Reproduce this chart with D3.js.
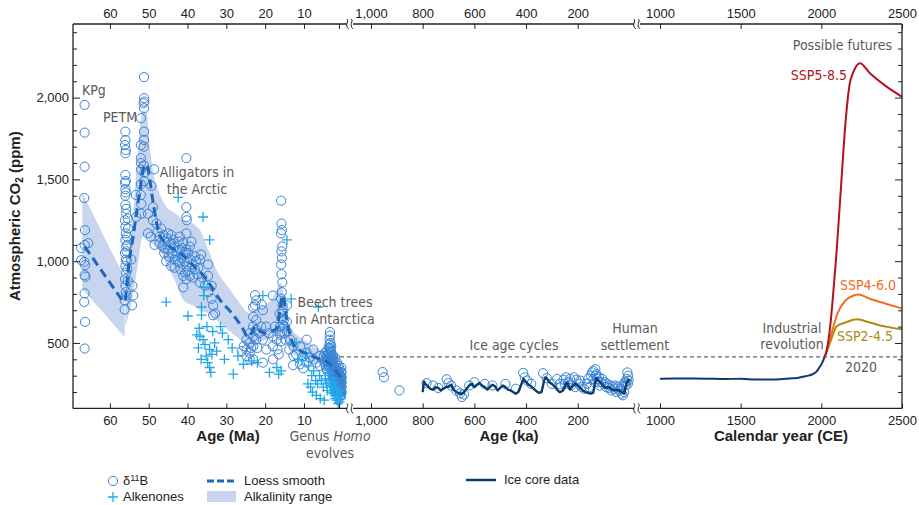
<!DOCTYPE html>
<html>
<head>
<meta charset="utf-8">
<script src="https://cdn.jsdelivr.net/npm/d3@7"></script>
<style>
  body { margin: 0; background: #fff; }
  text { font-family: "Liberation Sans", Arial, sans-serif; }
  .note { font-family: "Liberation Sans Narrow", "DejaVu Sans Condensed", sans-serif; fill: #5a5a5a; font-size: 14px; }
  .tick text { font-size: 13px; fill: #222; }
  .tick line { stroke: #222; }
</style>
</head>
<body>
<svg id="chart" width="919" height="505"></svg>
<script>
// ---- data ----
// boron isotope CO2, [age Ma, ppm]
const boronMa = [
  [66.5,1955],[66.5,1786],[66.5,1578],[66.6,1386],[66.4,1190],[66.5,1099],[66.6,996],[66.4,976],[66.5,915],[66.3,905],
  [66.5,803],[66.6,751],[66.4,629],[66.5,466],[67.4,1080],[67.4,1006],[65.6,1110],
  [56,1792],[56,1741],[56.1,1710],[55.9,1680],[56,1660],[56,1527],[55.9,1490],[56.1,1480],[56,1440],[55.9,1420],[56,1400],
  [56,1344],[55.8,1290],[56.1,1250],[56,1210],[55.9,1170],[56,1130],[55.8,1090],[56.1,1050],[55.9,1010],[56,970],[55.8,930],
  [56.1,890],[56,850],[55.9,810],[56.2,705],[54.5,1010],[54.2,850],[54,790],[54.3,730],[55.5,1100],[55.5,950],[55.3,1200],
  [55.4,880],[55.6,1000],[55.7,1060],[55.6,1150],[55.8,1320],[55.7,790],[56.2,760],[55.4,1260],
  [53.3,1405],[52,1874],[52,1710],[52,1630],[52,1600],[52,1560],[52,1470],[52,1405],[51.2,2125],[51.2,1997],[51.1,1976],
  [51.3,1966],[51.2,1935],[51.2,1792],[51.2,1741],[51.3,1700],[51.2,1585],[51.1,1540],[51.2,1490],[49.3,1460],[48.6,1562],
  [40.3,1630],[53.2,1270],[51.9,1350],[51.9,1290],[50.2,1290],[50.2,1170],[48.9,1330],[48.9,1250],[48,1230],
  [47.2,1150],[47.2,1110],[45.9,1120],[45.9,1080],[45,1170],[45,1070],[44.2,1160],[44.2,1110],[44.2,970],[43.3,1090],
  [43.3,1010],[43.3,960],[42,1150],[42,1070],[42,990],[41.1,1110],[41.1,1040],[41.1,910],[41.1,840],[40.3,1330],[40.3,1270],
  [40.3,1170],[40.3,1070],[40.3,970],[40.3,890],[39.4,1090],[39.4,1010],[39.4,910],[38.1,1030],[38.1,950],[36.8,1010],
  [36.8,870],[34.7,980],[34.7,910],[34.7,810],[33.8,770],[33.8,850],[32.9,680],[33.4,730],
  [46.5,1090],[46,1050],[45.5,1000],[44.8,1030],[44,1050],[43.7,1130],[42.8,1060],[42.5,1000],[41.8,950],[41.5,1020],
  [40.8,1000],[40.5,1050],[40,940],[39.8,1050],[38.8,980],[38.5,900],[37.5,920],[37.2,960],[36.2,900],[35.5,850],
  [48.5,1100],[49.5,1150],[47.7,1180],[46.8,1200],[40.2,1250],[33.4,670],[44.6,1100],[43,1030],[41.4,1080],[40.6,930],
  [39,1120],[42.3,1120],[45.2,1140],[46.2,1160],[37.8,1000],[36.5,1040],
  [24.8,520],[24.8,460],[24.8,420],[24,560],[24,500],[24,440],[24,400],[23.1,720],[23.1,660],[23.1,600],[23.1,540],
  [23.1,480],[23.1,400],[22.3,760],[22.3,640],[22.3,580],[22.3,520],[20.6,700],[20.6,520],[20.6,380],[19.7,600],[19.7,460],
  [18,540],[18,480],[18,400],[22.6,792],[22.6,730],[20.9,735],[18,790],[25.5,480],[26,450],[23.6,470],[22,470],[21.5,560],
  [21,600],[19,560],[17.5,600],[17,520],[16.8,460],[16.5,430],
  [15.9,1370],[15.8,1230],[15.7,1190],[15.9,1170],[15.6,1090],[15.8,1060],[15.7,1020],[15.9,980],[15.8,920],[15.6,870],
  [15.7,810],[15.9,770],[15.5,730],[15.6,690],[15.8,650],[15.4,610],[15.6,570],[15.9,510],[15.3,700],[15.2,640],[15.1,600],
  [16.3,680],[16.2,600],[16.1,550],[15,560],[14.8,520],
  [14.4,730],[14.4,630],[14.4,570],[12.7,480],[12.7,420],[11,480],[11,370],[9.3,520],[9.3,440],[9.3,380],[7.6,460],
  [7.6,400],[5.9,420],[5.9,360],[13.5,520],[13.8,460],[12,430],[10.2,420],[8.5,410],[6.8,380],[12.8,364],[10.2,345],
  [4.9,420],[4.7,380],[4.6,440],[4.5,400],[4.4,360],[4.3,420],[4.2,390],[4.1,450],[4.0,410],[3.9,370],[3.8,430],[3.7,470],
  [3.6,400],[3.5,440],[3.4,520],[3.3,567],[3.3,545],[3.2,500],[3.2,460],[3.1,420],[3.0,390],[3.0,480],[2.9,440],[2.8,400],
  [2.8,360],[2.7,420],[2.6,380],[2.6,330],[2.5,350],[2.5,300],[2.4,400],[2.3,340],[2.3,280],[2.2,360],[2.1,310],[2.0,270],
  [2.0,380],[1.9,330],[1.8,290],[1.8,240],[1.7,350],[1.6,300],[1.6,260],[1.5,220],[1.5,330],[1.4,280],[1.3,240],[1.3,310],
  [1.2,200],[1.2,270],[1.1,330],[1.1,230],[1.0,290],[1.0,190],[0.9,250],[0.9,310],[0.8,210],[0.8,270],[0.7,180],[0.7,240],
  [0.6,300],[0.6,200],[0.5,260],[0.5,175],[0.4,230],[0.4,290],[0.3,200],[0.3,260],[0.3,320],[2.2,230],[1.9,200],[1.4,180],
  [3.5,350],[4.0,330],[2.7,260],
  [3.4,490],[3.3,470],[3.1,450],[2.9,410],[2.7,390],[2.5,370],[2.4,350],[2.3,310],[2.1,290],[2.1,340],[1.9,260],[1.9,300],
  [1.7,280],[1.7,230],[1.6,200],[1.5,250],[1.4,310],[1.3,210],[1.2,290],[1.2,240],[1.1,200],[1.1,270],[1.0,250],[1.0,320],
  [0.9,220],[0.9,190],[0.8,240],[0.8,300],[0.7,270],[0.7,210],[0.6,250],[0.6,180],[0.5,220],[0.5,290],[0.4,200],[0.4,260],
  [0.3,230],[0.3,290],[2.6,300],[2.4,270],[2.2,300],[2.0,230],[1.8,320],[1.6,330],[1.4,240],[1.3,270],[3.0,350],[2.8,330],
  [3.2,400],[3.6,360],[3.8,390],[4.2,340],[2.5,420],[2.0,410],[1.5,380],[1.1,360],[0.8,340],[0.5,320],[0.4,350]
];

// alkenone CO2, [age Ma, ppm]
const alkenoneMa = [
  [42.4,1390],[45.5,750],[39.9,665],[36,1270],[34.3,1130],[35.8,840],[35.8,790],[36.4,720],[36.4,670],[37.6,550],[36.8,540],
  [36,520],[35.5,490],[34.3,460],[33.7,430],[34.8,380],[34.3,350],[33,500],[31.5,600],[31,560],[29.5,520],[28.5,470],
  [28.2,310],[25.6,370],[20.6,790],[18.9,320],[15.9,330],[14.4,1130],[13.3,770],[6.3,720],[37,590],[35,600],[33.5,570],
  [32.5,450],[37.2,470],[35.2,420],[36.5,400],[34,320],[30.5,400],[27,420],[23.5,390],[22,380],[17,350],[16.5,310],
  [12,500],[11.5,400],[10.5,390],[9.5,440],[8.8,360],[8,300],[7.5,330],[7,270],[6.5,250],[6,300],[5.5,270],[5,230],
  [4.5,280],[4.2,250],[4,210],[3.8,320],[3.5,280],[3.2,240],[3,200],[2.8,280],[2.6,230],[2.4,190],[2.2,260],[2,160],
  [1.8,220],[1.6,150],[1.4,200],[1.2,130],[1,180],[0.8,140],[0.6,210],[0.5,160],[7.8,200],[6.8,180],[5.8,160],[4.8,150],
  [9,250],[8.3,230]
];

// loess smooth, two pieces, [age Ma, ppm]
const loessEarly = [[66.5,1090],[56.2,740]];
const loessLate = [
  [56,760],[55,1000],[54,1150],[53,1320],[52,1470],[51.2,1580],[50.5,1590],[50,1540],[49,1380],[48,1240],[47,1150],
  [45.5,1110],[44,1080],[42,1050],[40,1010],[38,960],[36.4,925],[34,850],[31.6,762],[28.5,680],[26,598],[24.4,537],
  [23.5,560],[22.5,600],[21.5,575],[20,560],[18.5,570],[17,590],[16.2,700],[15.6,790],[15,740],[14.4,640],[13.5,540],
  [12.8,495],[11,455],[9,430],[7,410],[5,395],[3,365],[1.5,320],[0.3,280]
];

// alkalinity range, [age Ma, low ppm, high ppm]
const bandEarly = [[67.1,830,1420],[61.5,680,1150],[56.2,537,900]];
const bandLate = [
  [56,600,950],[54,800,1300],[53,950,1600],[51.5,1150,1925],[50.5,1150,1900],[49.5,1120,1650],[48.8,1100,1540],
  [47,1060,1400],[45.4,980,1333],[43,870,1290],[41.1,762,1252],[38,720,1220],[36.8,700,1190],[34.5,680,1060],
  [32.5,640,945],[29.5,580,840],[26.5,520,742],[24.8,476,690],[23.9,470,680],[22.4,497,700],[20,520,730],[18,540,780],
  [16,560,865],[15,520,760],[13.5,455,598],[10,400,520],[6,370,460],[2.5,333,415],[0.3,260,330]
];

// boron CO2 in the last million years, [age ka, ppm]
const boronKa = [
  [955,322],[950,290],[890,210],[785,254],[760,240],[740,225],[707,278],[700,255],[690,240],[670,210],[655,192],[648,170],
  [640,185],[620,240],[600,260],[560,250],[530,240],[480,250],[440,220],[411,317],[405,290],[395,270],[380,250],[334,315],
  [320,285],[300,250],[280,280],[270,250],[265,230],[255,275],[245,290],[235,260],[225,240],[215,290],[205,275],[195,250],
  [185,230],[175,220],[165,250],[150,300],[145,320],[140,280],[135,260],[130,300],[125,280],[120,260],[115,240],[110,260],
  [100,250],[90,230],[80,225],[70,210],[60,220],[50,200],[40,210],[30,190],[25,180],[20,200],[15,240],[10,280],[5,300],
  [8,320],[12,260],[140,330],[132,340],[128,310],[118,290],[105,280],[95,260],[85,250],[75,240],[65,235],[55,240],
  [45,230],[35,220],[28,240],[18,260],[6,250],[3,270],[250,250],[230,280],[210,230],[190,270],[160,280],[155,230]
];

// ice core CO2, [age ka, ppm]
const iceKa = [
  [800,200],[795,265],[790,250],[780,235],[770,220],[760,215],[750,230],[740,225],[730,210],[720,220],[710,230],[700,235],
  [690,245],[680,215],[670,200],[660,195],[650,185],[640,200],[630,220],[620,240],[610,250],[600,230],[590,245],[580,255],
  [570,240],[560,230],[550,215],[540,230],[530,245],[520,235],[510,210],[500,225],[490,240],[480,230],[470,215],[460,210],
  [450,200],[440,190],[430,200],[420,240],[410,280],[400,260],[390,245],[380,235],[370,220],[360,205],[350,195],[340,200],
  [330,270],[325,290],[320,285],[310,260],[300,250],[290,235],[280,215],[270,200],[260,205],[250,230],[245,255],[240,255],
  [230,215],[220,235],[210,250],[200,240],[190,225],[180,210],[170,200],[160,195],[150,190],[140,195],[135,240],[128,285],
  [120,272],[110,255],[100,235],[90,225],[80,230],[70,220],[60,210],[50,215],[40,210],[30,200],[20,190],[15,230],[10,262],
  [5,265],[1,280]
];

// ice core and instrumental CO2, [year CE, ppm]
const iceCE = [
  [1000,282],[1100,283],[1200,283],[1300,282],[1400,280],[1500,281],[1600,276],[1700,277],[1750,278],[1800,283],
  [1850,286],[1900,296],[1950,311],[1970,325],[1990,354],[2000,369],[2010,389],[2020,414]
];

// scenarios, [year CE, ppm]
const ssp585 = [[2020,414],[2030,440],[2040,490],[2050,560],[2060,650],[2070,760],[2080,880],[2090,1000],[2100,1135],
  [2125,1500],[2150,1850],[2175,2080],[2200,2160],[2240,2210],[2300,2150],[2400,2070],[2500,2005]];
const ssp460 = [[2020,414],[2050,510],[2075,600],[2100,680],[2150,760],[2200,790],[2230,797],[2300,770],[2400,740],[2500,711]];
const ssp245 = [[2020,414],[2050,490],[2075,560],[2090,595],[2100,605],[2150,625],[2220,645],[2300,625],[2400,600],[2500,584]];

const now = 415;

const yTicks = [500, 1000, 1500, 2000];
const maTicks = [60, 50, 40, 30, 20, 10, 1];
const kaTicks = [1000, 800, 600, 400, 200];
const ceTicks = [1000, 1500, 2000, 2500];

// ---- chart ----
const svg = d3.select("#chart");
const yTop = 24, yBot = 408.4, xLeft = 73, xRight = 902;

const y = d3.scaleLinear().domain([100, 2450]).range([yBot, yTop]);
const xMa = d3.scaleLinear().domain([69.5, 0]).range([xLeft, 342.8]);
const xKa = d3.scaleLinear().domain([1000, 0]).range([371, 629.4]);
const xCE = d3.scaleLinear().domain([1000, 2500]).range([660, xRight]);

const cBoron = "#3a84d6", cAlk = "#22a8ea", cLoess = "#1b68bd", cBand = "#c7d5ef", cIce = "#0e3a6c";

// alkalinity band
const band = d3.area().x(d => xMa(d[0])).y0(d => y(d[1])).y1(d => y(d[2])).curve(d3.curveMonotoneX);
[bandEarly, bandLate].forEach(b => {
  svg.append("path").attr("d", band(b)).attr("fill", cBand);
});

// present day level
svg.append("line")
  .attr("x1", 340).attr("x2", xRight)
  .attr("y1", y(now)).attr("y2", y(now))
  .attr("stroke", "#666").attr("stroke-width", 1.3).attr("stroke-dasharray", "4,3");

// boron circles
svg.append("g").selectAll("circle")
  .data(boronMa)
  .enter().append("circle")
  .attr("cx", d => xMa(d[0]))
  .attr("cy", d => y(d[1]))
  .attr("r", 4.6)
  .attr("fill", "none")
  .attr("stroke", cBoron)
  .attr("stroke-width", 1);

svg.append("g").selectAll("circle")
  .data(boronKa)
  .enter().append("circle")
  .attr("cx", d => xKa(d[0]))
  .attr("cy", d => y(d[1]))
  .attr("r", 4.6)
  .attr("fill", "none")
  .attr("stroke", cBoron)
  .attr("stroke-width", 1);

// alkenone pluses
svg.append("g").selectAll("path")
  .data(alkenoneMa)
  .enter().append("path")
  .attr("d", d => {
    const px = xMa(d[0]), py = y(d[1]);
    return "M" + (px - 5) + "," + py + "H" + (px + 5) + "M" + px + "," + (py - 5) + "V" + (py + 5);
  })
  .attr("stroke", cAlk)
  .attr("stroke-width", 1.3);

// loess smooth
const lineMa = d3.line().x(d => xMa(d[0])).y(d => y(d[1])).curve(d3.curveMonotoneX);
[loessEarly, loessLate].forEach(l => {
  svg.append("path").attr("d", lineMa(l))
    .attr("fill", "none").attr("stroke", cLoess)
    .attr("stroke-width", 3).attr("stroke-dasharray", "9,5");
});

// ice core
svg.append("path")
  .attr("d", d3.line().x(d => xKa(d[0])).y(d => y(d[1]))(iceKa))
  .attr("fill", "none").attr("stroke", cIce).attr("stroke-width", 2.4).attr("stroke-linejoin", "round");

const lineCE = d3.line().x(d => xCE(d[0])).y(d => y(d[1])).curve(d3.curveMonotoneX);
svg.append("path").attr("d", lineCE(iceCE))
  .attr("fill", "none").attr("stroke", cIce).attr("stroke-width", 2);

[[ssp245, "#a98c10"], [ssp460, "#f26d22"], [ssp585, "#b3141c"]].forEach(s => {
  svg.append("path").attr("d", lineCE(s[0]))
    .attr("fill", "none").attr("stroke", s[1]).attr("stroke-width", 2);
});

// frame with breaks
const frame = svg.append("g").attr("stroke", "#222").attr("stroke-width", 1.3).attr("fill", "none");
[yTop, yBot].forEach(yy => {
  frame.append("line").attr("x1", xLeft).attr("x2", xRight).attr("y1", yy).attr("y2", yy);
});
frame.append("line").attr("x1", xLeft).attr("x2", xLeft).attr("y1", yTop).attr("y2", yBot);
frame.append("line").attr("x1", xRight).attr("x2", xRight).attr("y1", yTop).attr("y2", yBot);

[350, 637].forEach(bx => {
  [yTop, yBot].forEach(yy => {
    svg.append("rect").attr("x", bx - 3).attr("y", yy - 2).attr("width", 6).attr("height", 4).attr("fill", "#fff");
    [-2.2, 2.2].forEach(off => {
      svg.append("path")
        .attr("d", "M" + (bx + off - 1) + "," + (yy - 5) + "c 3,2 -3,6 2,10")
        .attr("fill", "none").attr("stroke", "#222").attr("stroke-width", 1);
    });
  });
});

// x axes
function xAxes(scale, ticks, fmt) {
  svg.append("g")
    .attr("transform", "translate(0," + yTop + ")")
    .call(d3.axisTop(scale).tickValues(ticks).tickSize(-5).tickPadding(6).tickFormat(fmt))
    .call(g => g.select(".domain").remove());
  svg.append("g")
    .attr("transform", "translate(0," + yBot + ")")
    .call(d3.axisBottom(scale).tickValues(ticks).tickSize(-5).tickPadding(7).tickFormat(fmt))
    .call(g => g.select(".domain").remove());
}
xAxes(xMa, maTicks, d => d === 1 ? "" : d);
xAxes(xKa, kaTicks, d3.format(","));
xAxes(xCE, ceTicks, d => d);

// y axes
const minor = d3.range(200, 2500, 100).filter(v => yTicks.indexOf(v) < 0);
svg.append("g")
  .attr("transform", "translate(" + xLeft + ",0)")
  .call(d3.axisLeft(y).tickValues(yTicks).tickSize(-7).tickPadding(4).tickFormat(d3.format(",")))
  .call(g => g.select(".domain").remove());
svg.append("g")
  .attr("transform", "translate(" + xLeft + ",0)")
  .call(d3.axisLeft(y).tickValues(minor).tickSize(-4).tickFormat(""))
  .call(g => g.select(".domain").remove());
svg.append("g")
  .attr("transform", "translate(" + xRight + ",0)")
  .call(d3.axisRight(y).tickValues(yTicks).tickSize(-7).tickFormat(""))
  .call(g => g.select(".domain").remove());
svg.append("g")
  .attr("transform", "translate(" + xRight + ",0)")
  .call(d3.axisRight(y).tickValues(minor).tickSize(-4).tickFormat(""))
  .call(g => g.select(".domain").remove());

// titles
const yt = svg.append("text")
  .attr("transform", "translate(20," + ((yTop + yBot) / 2) + ") rotate(-90)")
  .attr("text-anchor", "middle")
  .attr("font-size", 15).attr("font-weight", "bold").attr("fill", "#222");
yt.append("tspan").text("Atmospheric CO");
yt.append("tspan").attr("font-size", 10).attr("dy", 3).text("2");
yt.append("tspan").attr("dy", -3).text(" (ppm)");

[["Age (Ma)", 228], ["Age (ka)", 509], ["Calendar year (CE)", 781]].forEach(t => {
  svg.append("text").attr("x", t[1]).attr("y", 441)
    .attr("text-anchor", "middle").attr("font-size", 15).attr("font-weight", "bold").attr("fill", "#222")
    .text(t[0]);
});

// annotations
function note(txt, x, yy, anchor, color) {
  return svg.append("text").attr("class", "note").attr("x", x).attr("y", yy)
    .attr("text-anchor", anchor || "start").style("fill", color || null).text(txt);
}
note("KPg", 82, 95);
note("PETM", 103, 122);
note("Alligators in", 197, 177, "middle");
note("the Arctic", 197, 194, "middle");
note("Beech trees", 335, 307, "middle");
note("in Antarctica", 335, 324, "middle");
note("Ice age cycles", 514, 350, "middle");
note("Human", 635, 333, "middle");
note("settlement", 635, 350, "middle");
note("Industrial", 792, 333, "middle");
note("revolution", 792, 349, "middle");
note("Possible futures", 892, 50, "end");
note("SSP5-8.5", 847, 80, "end", "#b3141c");
note("SSP4-6.0", 868, 290, "middle", "#f26d22");
note("SSP2-4.5", 865, 341, "middle", "#a98c10");
note("2020", 861, 372, "middle");
const homo = note("Genus ", 330, 441, "middle");
homo.append("tspan").attr("font-style", "italic").text("Homo");
note("evolves", 330, 458, "middle");

// legend
const lg = svg.append("g");
lg.append("circle").attr("cx", 113).attr("cy", 481).attr("r", 4.6)
  .attr("fill", "none").attr("stroke", cBoron).attr("stroke-width", 1);
const dt = lg.append("text").attr("x", 123).attr("y", 485).attr("font-size", 13).attr("fill", "#222");
dt.append("tspan").text("δ");
dt.append("tspan").attr("font-size", 9).attr("dy", -4).text("11");
dt.append("tspan").attr("dy", 4).text("B");
lg.append("path").attr("d", "M108,497H118M113,492V502").attr("stroke", cAlk).attr("stroke-width", 1.3);
lg.append("text").attr("x", 123).attr("y", 501).attr("font-size", 13).attr("fill", "#222").text("Alkenones");
lg.append("line").attr("x1", 207).attr("x2", 236).attr("y1", 481).attr("y2", 481)
  .attr("stroke", cLoess).attr("stroke-width", 3).attr("stroke-dasharray", "7,3");
lg.append("text").attr("x", 244).attr("y", 485).attr("font-size", 13).attr("fill", "#222").text("Loess smooth");
lg.append("rect").attr("x", 207).attr("y", 491).attr("width", 29).attr("height", 11).attr("fill", cBand);
lg.append("text").attr("x", 244).attr("y", 501).attr("font-size", 13).attr("fill", "#222").text("Alkalinity range");
lg.append("line").attr("x1", 466).attr("x2", 496).attr("y1", 480).attr("y2", 480)
  .attr("stroke", cIce).attr("stroke-width", 2.5);
lg.append("text").attr("x", 504).attr("y", 484).attr("font-size", 13).attr("fill", "#222").text("Ice core data");
</script>
</body>
</html>
